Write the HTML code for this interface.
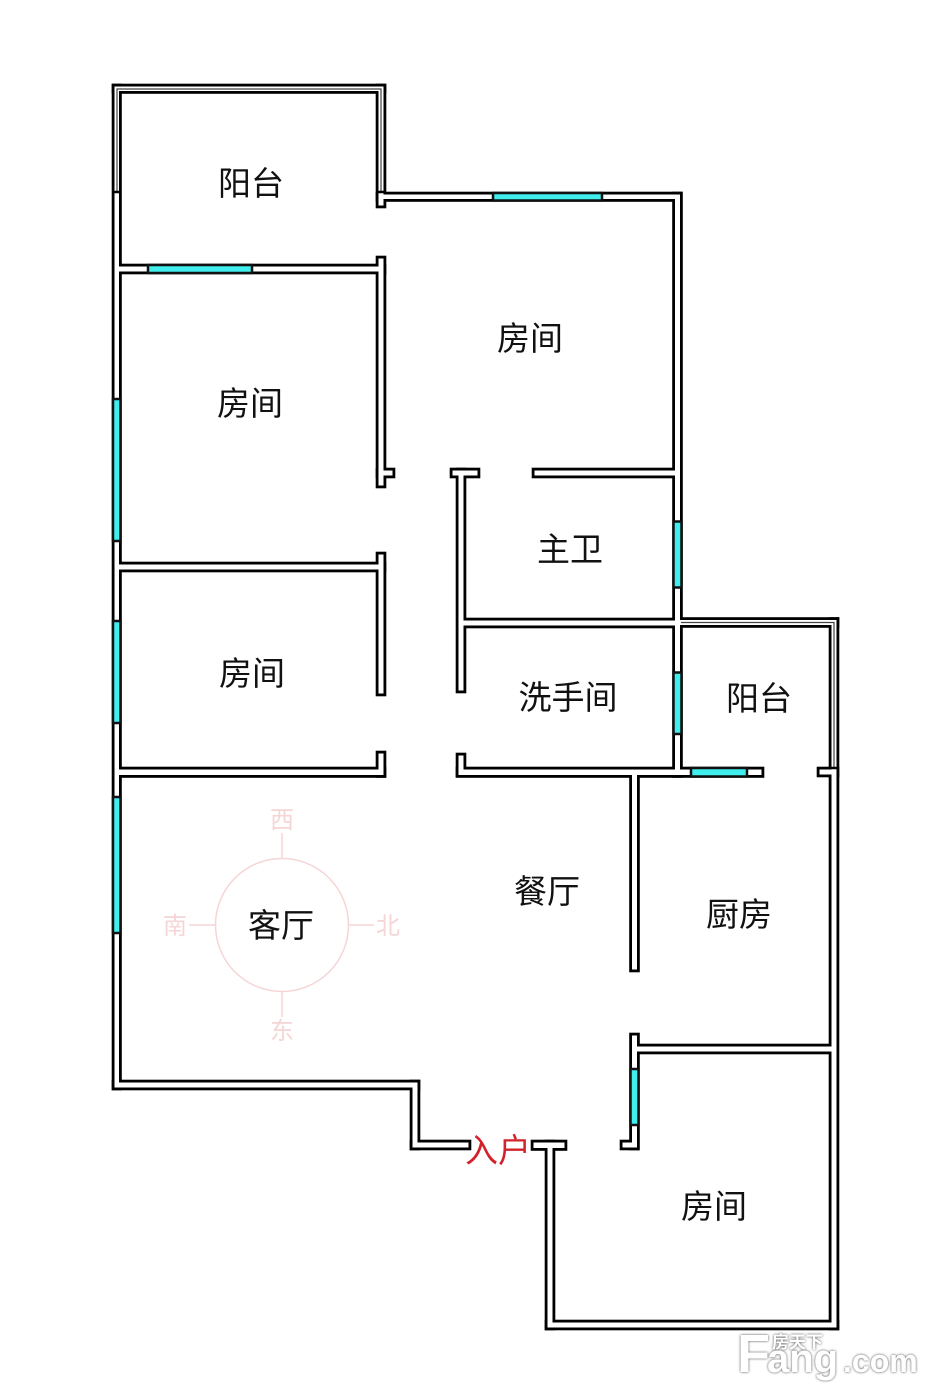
<!DOCTYPE html>
<html><head><meta charset="utf-8">
<style>
html,body{margin:0;padding:0;background:#fff}
body{width:935px;height:1400px;overflow:hidden;position:relative}
svg{position:absolute;left:0;top:0}
text{font-family:"Liberation Sans","Noto Sans CJK SC",sans-serif}
.l{font-size:33px;fill:#111;text-anchor:middle}
.c{font-size:24px;fill:#f5d5d5;text-anchor:middle}
</style></head><body>
<svg width="935" height="1400" viewBox="0 0 935 1400">
<defs>
<filter id="er" filterUnits="userSpaceOnUse" x="0" y="0" width="935" height="1400">
<feMorphology operator="erode" radius="1.5"/>
</filter>
<g id="w">
<rect x="113" y="85" width="7.5" height="1004"/>
<rect x="113" y="85" width="272" height="7.500"/>
<rect x="377" y="85" width="8" height="122"/>
<rect x="377" y="193" width="304" height="7.500"/>
<rect x="116" y="265" width="269" height="8"/>
<rect x="377" y="257" width="8" height="230"/>
<rect x="377" y="469" width="17" height="8"/>
<rect x="116" y="563" width="269" height="8"/>
<rect x="377" y="553" width="8" height="142"/>
<rect x="116" y="768" width="269" height="8.500"/>
<rect x="377" y="752" width="8" height="24.500"/>
<rect x="457" y="469" width="8" height="223"/>
<rect x="451" y="469" width="28" height="8"/>
<rect x="533" y="469" width="145" height="8"/>
<rect x="673.500" y="193" width="8" height="583.500"/>
<rect x="460" y="619" width="218" height="8"/>
<rect x="457" y="768" width="306" height="8.500"/>
<rect x="457" y="754" width="8" height="22"/>
<rect x="630.500" y="772" width="8" height="199"/>
<rect x="630.500" y="1034" width="8" height="115"/>
<rect x="621" y="1141" width="17" height="8"/>
<rect x="634" y="1045" width="200" height="8"/>
<rect x="677" y="618.500" width="161" height="8"/>
<rect x="830" y="618.500" width="8" height="710.500"/>
<rect x="818" y="768" width="20" height="8"/>
<rect x="546" y="1321" width="292" height="8"/>
<rect x="546" y="1141" width="8" height="188"/>
<rect x="532" y="1141" width="34" height="8.500"/>
<rect x="113" y="1081" width="306" height="8"/>
<rect x="411" y="1081" width="8" height="68"/>
<rect x="411" y="1141" width="59" height="8"/>
</g>
<g id="g">
<rect x="113" y="399" width="7.500" height="142"/>
<rect x="113" y="621" width="7.500" height="102"/>
<rect x="113" y="797" width="7.500" height="136"/>
<rect x="148" y="265" width="104" height="8"/>
<rect x="493" y="193" width="109" height="7.500"/>
<rect x="673.500" y="521.500" width="8" height="66"/>
<rect x="673.500" y="672.500" width="8" height="61.500"/>
<rect x="691" y="768" width="56" height="8.500"/>
<rect x="630.500" y="1069" width="8" height="56"/>
</g></defs>
<use href="#w" fill="#000" stroke="#000" stroke-width="2.600"/>
<g filter="url(#er)"><use href="#w" fill="#fff"/></g>
<path d="M117 192V89H381V192M681 622.500H834V768" fill="none" stroke="#444" stroke-width="1.200"/>
<path d="M113 192H120.500M377 192H385M830 768H838" stroke="#000" stroke-width="2.500"/>
<use href="#g" fill="#40eeee" stroke="#111" stroke-width="2.500"/>
<text class="l" x="251" y="195">阳台</text>
<text class="l" x="530" y="350">房间</text>
<text class="l" x="250" y="415">房间</text>
<text class="l" x="570" y="561">主卫</text>
<text class="l" x="252" y="685">房间</text>
<text class="l" x="568" y="709">洗手间</text>
<text class="l" x="759" y="710">阳台</text>
<text class="l" x="547" y="903">餐厅</text>
<text class="l" x="281" y="937">客厅</text>
<text class="l" x="739" y="926">厨房</text>
<text class="l" x="714" y="1218">房间</text>
<text class="l" x="498" y="1162" style="fill:#d2232a">入户</text>
<g fill="none" stroke="#f5d5d5" stroke-width="1.500">
<circle cx="282" cy="925" r="66.500"/>
<path d="M282 833V858M282 992V1017M189 925H215M349 925H374"/>
</g>
<text class="c" x="282" y="828">西</text>
<text class="c" x="282" y="1039">东</text>
<text class="c" x="175" y="934">南</text>
<text class="c" x="388" y="934">北</text>
<g style="filter:drop-shadow(0 0 1.200px #444)" fill="#fff">
<text x="737" y="1372" style="font-size:54px;font-weight:700">F</text>
<text x="767" y="1372" style="font-size:40px;font-weight:700">ang</text>
<text x="843" y="1372" style="font-size:32px;font-weight:700">.com</text>
<text x="772" y="1348" style="font-size:17px;font-weight:700">房天下</text>
</g>
</svg>
</body></html>
